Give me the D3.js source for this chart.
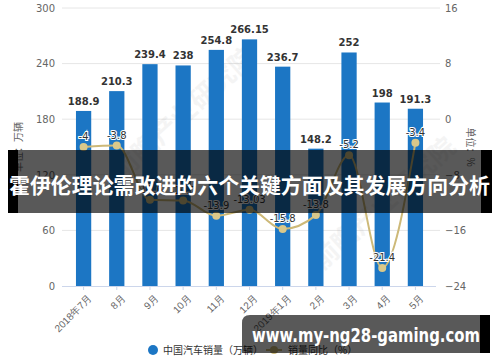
<!DOCTYPE html>
<html>
<head>
<meta charset="utf-8">
<script src="https://cdn.jsdelivr.net/npm/d3@7"></script>
<style>
  body { margin: 0; background: #fff; }
  svg { display: block; font-family: "Noto Sans CJK SC", "DejaVu Sans", sans-serif; }
</style>
</head>
<body>
<svg></svg>
<script>
const W = 500, H = 362;
const PLOT = { left: 67, right: 432, top: 8, bottom: 286 };

// data
const categories = ["2018年7月", "8月", "9月", "10月", "11月", "12月", "2019年1月", "2月", "3月", "4月", "5月"];
const sales = [188.9, 210.3, 239.4, 238, 254.8, 266.15, 236.7, 148.2, 252, 198, 191.3];
const growth = [-4, -3.8, -11.6, -11.7, -13.9, -13.03, -15.8, -13.8, -5.2, -21.4, -3.4];
const leftTicks = [0, 60, 120, 180, 240, 300];
const rightTicks = [-24, -16, -8, 0, 8, 16];
const seriesNames = ["中国汽车销量（万辆）", "销量同比（%）"];

const BAR = "#1c76c4", LINE = "#cdb978";

var svg = d3.select("svg").attr("width", W).attr("height", H);

var x = d3.scaleBand().domain(categories).range([PLOT.left, PLOT.right])
    .paddingInner(0.54).paddingOuter(0.27);
var yL = d3.scaleLinear().domain([0, 300]).range([PLOT.bottom, PLOT.top]);
var yR = d3.scaleLinear().domain([-24, 16]).range([PLOT.bottom, PLOT.top]);
var cx = function(d) { return x(d) + x.bandwidth() / 2 };

// gridlines
svg.append("g").selectAll("line").data(leftTicks.slice(1)).enter().append("line")
    .attr("x1", 62).attr("x2", 440)
    .attr("y1", function(d) { return yL(d) }).attr("y2", function(d) { return yL(d) })
    .attr("stroke", "#e6e6e6");

// faint watermark
[[190, 120], [390, 210]].forEach(function(p) {
  svg.append("text").attr("transform", "translate(" + p[0] + "," + p[1] + ") rotate(-42)")
      .attr("text-anchor", "middle").attr("font-size", 26).attr("font-weight", "bold")
      .attr("fill", "#000").attr("opacity", 0.04).text("前瞻产业研究院");
});

// left axis
var axL = svg.append("g").attr("transform", "translate(57,0)")
    .call(d3.axisLeft(yL).tickValues(leftTicks).tickSize(0).tickPadding(2));
axL.select(".domain").remove();
axL.selectAll("text").attr("fill", "#666").attr("font-size", 10).attr("font-family", "DejaVu Sans, sans-serif");

// right axis
var axR = svg.append("g").attr("transform", "translate(443,0)")
    .call(d3.axisRight(yR).tickValues(rightTicks).tickSize(0).tickPadding(2));
axR.select(".domain").remove();
axR.selectAll("text").attr("fill", "#666").attr("font-size", 10).attr("font-family", "DejaVu Sans, sans-serif");

// axis titles
svg.append("text").attr("transform", "translate(22,147) rotate(-90)")
    .attr("text-anchor", "middle").attr("font-size", 10).attr("fill", "#666").text("单位：万辆");
svg.append("text").attr("transform", "translate(467,147) rotate(90)")
    .attr("text-anchor", "middle").attr("font-size", 10).attr("fill", "#666").text("单位：%");

// bars
svg.append("g").selectAll("rect").data(sales).enter().append("rect")
    .attr("x", function(d, i) { return x(categories[i]) })
    .attr("width", x.bandwidth())
    .attr("y", function(d) { return yL(d) })
    .attr("height", function(d) { return yL(0) - yL(d) })
    .attr("fill", BAR);

svg.append("g").selectAll("text").data(sales).enter().append("text")
    .attr("x", function(d, i) { return cx(categories[i]) })
    .attr("y", function(d) { return yL(d) - 6 })
    .attr("text-anchor", "middle").attr("font-size", 10).attr("font-weight", "bold")
    .attr("font-family", "DejaVu Sans, sans-serif").attr("fill", "#333")
    .text(function(d) { return d });

// x axis
var axX = svg.append("g").attr("transform", "translate(0," + PLOT.bottom + ")")
    .call(d3.axisBottom(x).tickSize(4).tickSizeOuter(0));
axX.select(".domain").attr("stroke", "#ccd6eb").attr("d", "M62,0.5H436");
axX.selectAll(".tick line").attr("stroke", "#ccd6eb");
axX.selectAll("text").attr("fill", "#666").attr("font-size", 10)
    .attr("text-anchor", "end").attr("dy", 0)
    .attr("transform", "translate(4,8) rotate(-45)");

// growth line
var line = d3.line()
    .x(function(d, i) { return cx(categories[i]) })
    .y(function(d) { return yR(d) })
    .curve(d3.curveMonotoneX);
svg.append("path").datum(growth).attr("d", line)
    .attr("fill", "none").attr("stroke", LINE).attr("stroke-width", 2);
svg.append("g").selectAll("circle").data(growth).enter().append("circle")
    .attr("cx", function(d, i) { return cx(categories[i]) })
    .attr("cy", function(d) { return yR(d) })
    .attr("r", 4).attr("fill", "#d9c88a");
svg.append("g").selectAll("text").data(growth).enter().append("text")
    .attr("x", function(d, i) { return cx(categories[i]) })
    .attr("y", function(d) { return yR(d) - 7 })
    .attr("text-anchor", "middle").attr("font-size", 10)
    .attr("font-family", "DejaVu Sans, sans-serif")
    .attr("fill", "#333").attr("stroke", "#fff").attr("stroke-width", 2)
    .attr("paint-order", "stroke")
    .text(function(d) { return d });

// legend
var leg = svg.append("g").attr("font-size", 10).attr("fill", "#333");
leg.append("circle").attr("cx", 153).attr("cy", 350).attr("r", 5).attr("fill", BAR);
leg.append("text").attr("x", 163).attr("y", 354).attr("fill", "#333").text(seriesNames[0]);
leg.append("line").attr("x1", 266).attr("x2", 282).attr("y1", 350).attr("y2", 350)
    .attr("stroke", LINE).attr("stroke-width", 2);
leg.append("circle").attr("cx", 274).attr("cy", 350).attr("r", 4).attr("fill", LINE);
leg.append("text").attr("x", 288).attr("y", 354).attr("fill", "#333").text(seriesNames[1]);

// title banner overlay
svg.append("rect").attr("x", 8).attr("y", 150).attr("width", 484).attr("height", 63)
    .attr("fill", "#000").attr("opacity", 0.65);
svg.append("rect").attr("x", 8).attr("y", 150).attr("width", 10).attr("height", 63).attr("fill", "#000");
svg.append("rect").attr("x", 481).attr("y", 150).attr("width", 11).attr("height", 63).attr("fill", "#000");
svg.append("text").attr("x", 9).attr("y", 193)
    .attr("font-size", 21).attr("font-weight", "bold").attr("fill", "#fff")
    .attr("textLength", 481).attr("lengthAdjust", "spacingAndGlyphs")
    .text("霍伊伦理论需改进的六个关键方面及其发展方向分析");

// site box overlay
svg.append("path")
    .attr("d", "M250,315H490V353H242V323Q242,315 250,315Z")
    .attr("fill", "#000").attr("opacity", 0.65);
svg.append("rect").attr("x", 480).attr("y", 315).attr("width", 10).attr("height", 38).attr("fill", "#000");
svg.append("text").attr("x", 252).attr("y", 342)
    .attr("font-size", 19).attr("font-weight", "bold").attr("fill", "#fff")
    .attr("font-family", "DejaVu Sans, sans-serif")
    .attr("textLength", 228).attr("lengthAdjust", "spacingAndGlyphs")
    .text("www.my-ng28-gaming.com");
</script>
</body>
</html>
